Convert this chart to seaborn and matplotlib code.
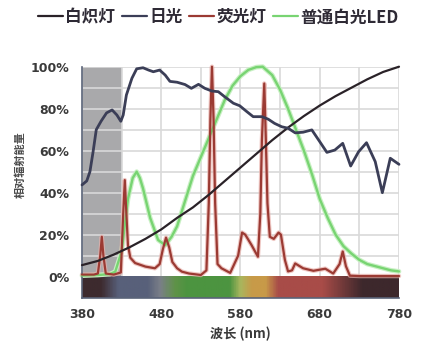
import numpy as np
import pandas as pd
import matplotlib
matplotlib.use("Agg")
import matplotlib.pyplot as plt
from matplotlib.colors import LinearSegmentedColormap
from matplotlib.lines import Line2D
import seaborn as sns

# ---------------- data ----------------
series_names = ["白炽灯", "日光", "荧光灯", "普通白光LED"]

incand_nm = [380, 400, 420, 440, 460, 480, 500, 520, 540, 560, 580, 600, 620, 640,
             660, 680, 700, 720, 740, 760, 780]
incand_pct = [5.5, 7.5, 10.5, 14, 18, 22.5, 28, 33, 39, 45.5, 52, 58.5, 65, 71,
              76.5, 81.5, 86, 90, 94, 97.5, 100]

day_nm = [380, 386, 390, 394, 398, 404, 411, 418, 424, 429, 432, 436, 443, 449, 457,
          464, 470, 478, 485, 491, 500, 510, 518, 527, 535, 544, 552, 560, 571, 579,
          588, 596, 607, 615, 623, 632, 640, 649, 659, 670, 680, 689, 699, 709, 719,
          729, 739, 750, 759, 769, 780]
day_pct = [43.7, 45.6, 50, 59.5, 70, 74, 78, 79.4, 77, 74, 77, 86.5, 94.5, 99, 99.5,
           98.4, 97.6, 98.4, 96, 93, 92.6, 91.5, 89.7, 91.6, 89.7, 88.4, 88.1, 85.7, 82.6, 81.4,
           78.6, 76.2, 76.2, 75, 73, 71.4, 70.7, 68.5, 68.8, 69.9, 64.3, 59.2, 60.3, 63.5, 52.7,
           59.5, 63.8, 54.8, 40, 56.4, 53.5]

fluor_nm = [380, 395, 400, 403, 405, 407, 410, 420, 429, 432, 434, 436, 438, 441, 447,
            460, 472, 478, 482, 486, 490, 494, 500, 506, 515, 530, 537, 540, 542, 544,
            546, 548, 551, 556, 567, 577, 582, 586, 594, 602, 605, 607, 610, 612, 614,
            617, 622, 628, 631, 636, 640, 645, 649, 659, 672, 687, 697, 705, 709, 713,
            718, 730, 780]
fluor_pct = [1, 1, 1.5, 10, 19, 10, 1.5, 1, 2, 30, 46, 30, 15, 9, 6.5,
             4.8, 4, 6, 13, 18.6, 14, 7, 4, 2.4, 1.5, 0.8, 3, 35, 75, 100,
             75, 35, 6, 4, 1.8, 10, 21, 20, 15, 9.5, 30, 65, 92, 65, 35,
             19, 18, 21, 20, 8, 2.5, 3, 6.3, 4, 2.8, 3.8, 1.5, 6, 12, 5,
             0.5, 0.3, 0.3]

led_nm = [380, 400, 415, 422, 430, 438, 444, 449, 453, 457, 466, 476, 485, 493, 500,
          510, 520, 530, 540, 550, 560, 570, 580, 590, 600, 608, 620, 630, 640, 650,
          660, 670, 680, 690, 700, 710, 720, 730, 740, 750, 760, 770, 780]
led_pct = [0.5, 0.8, 1.2, 2.4, 12, 37, 47, 50, 47, 42, 28, 17.5, 15, 19, 24,
           36, 48, 57, 66, 75, 84, 91, 95.5, 98.5, 99.8, 100, 96, 89, 80, 70,
           60, 49, 37, 28, 20, 14.5, 11, 8, 6, 5, 4, 3, 2.5]

x_ticks = [380, 480, 580, 680, 780]
y_ticks = [0, 20, 40, 60, 80, 100]
y_ticklabels = ["0%", "20%", "40%", "60%", "80%", "100%"]
shade_range = (380, 430)

# spectrum bar colours (wavelength, colour)
spec_nm = [380, 403, 425, 462, 478, 497, 512, 566, 580, 595, 612, 628, 684, 735, 780]
spec_col = ["#3d2a2e", "#3d2a2e", "#58607a", "#58607a", "#7a7f88", "#5f9248", "#4c9440",
            "#4c9440", "#a9b65e", "#c89a48", "#c89a48", "#a84c48", "#a84c48", "#3d282c", "#3d282c"]

# ---------------- style ----------------
sns.set_style("white")
plt.rcParams["font.family"] = ["DejaVu Sans", "Noto Sans CJK SC"]
cjk = ["Noto Sans CJK SC", "DejaVu Sans"]

fig = plt.figure(figsize=(4.39, 3.58), dpi=100)
ax = fig.add_axes([82 / 439, 1 - 298.3 / 358, 317 / 439, 231.6 / 358])

c_inc = "#2a2228"
c_day = "#3b3e57"
c_flu = "#9b3a33"
c_led = "#78d472"

# spectrum bar
cmap = LinearSegmentedColormap.from_list(
    "spec", [((n - 380) / 400, c) for n, c in zip(spec_nm, spec_col)])
grad = np.linspace(0, 1, 400).reshape(1, -1)
ax.imshow(grad, extent=[380, 780, -10.3, 0], aspect="auto", cmap=cmap, zorder=1)

# shaded UV region
ax.axvspan(shade_range[0], shade_range[1], ymin=10.3 / 110.3, ymax=1,
           color="#a9a9ab", zorder=0.3, lw=0)

# halos
ax.plot(led_nm, led_pct, color="#c9f0c4", lw=3.4, zorder=2, solid_capstyle="round")
ax.plot(fluor_nm, fluor_pct, color="#e8b0aa", lw=3.2, zorder=2.5, alpha=0.7)

sns.lineplot(x=led_nm, y=led_pct, ax=ax, color=c_led, lw=1.7, zorder=3, sort=False)
sns.lineplot(x=fluor_nm, y=fluor_pct, ax=ax, color=c_flu, lw=1.6, zorder=4, sort=False)
sns.lineplot(x=incand_nm, y=incand_pct, ax=ax, color=c_inc, lw=1.6, zorder=5, sort=False)
sns.lineplot(x=day_nm, y=day_pct, ax=ax, color=c_day, lw=2.0, zorder=6, sort=False)
for ln in ax.get_lines():
    ln.set_clip_on(False)

ax.set_xlim(380, 780)
ax.set_ylim(-10.3, 100)

ax.set_xticks(x_ticks)
ax.set_xticks([430, 530, 630, 730], minor=True)
ax.set_yticks(y_ticks)
ax.set_yticks([10, 30, 50, 70, 90], minor=True)
ax.set_yticklabels(y_ticklabels)
ax.set_xticklabels([str(v) for v in x_ticks])

ax.set_axisbelow(True)
ax.grid(True, which="both", color="#d9d9d9", lw=1.2)

for lab in ax.get_xticklabels() + ax.get_yticklabels():
    lab.set_fontweight("bold")
    lab.set_color("#3a3a3a")
    lab.set_fontsize(9)

ax.tick_params(axis="x", which="major", direction="in", length=3, width=1,
               color="#444455", pad=7)
ax.tick_params(axis="y", which="major", direction="in", length=3, width=1,
               color="#556070", pad=9)
ax.tick_params(which="minor", length=0)

for s in ["top", "right"]:
    ax.spines[s].set_visible(False)
ax.spines["left"].set_color("#5a6378")
ax.spines["left"].set_linewidth(1.2)
ax.spines["bottom"].set_color("#5a6378")
ax.spines["bottom"].set_linewidth(1.2)

ax.set_xlabel("波长 (nm)", family=cjk, fontweight="bold", fontsize=9.5,
              color="#3a3a3a", labelpad=4)
ax.set_ylabel("相对辐射能量", family=cjk, fontsize=8, fontweight="bold", color="#4a4a4a")
ax.yaxis.set_label_coords(-0.175, 63.5 / 110.3)

# legend
handles = [Line2D([], [], color=c_inc, lw=1.6),
           Line2D([], [], color=c_day, lw=1.6),
           Line2D([], [], color=c_flu, lw=1.6),
           Line2D([], [], color=c_led, lw=1.6)]
leg = fig.legend(handles, series_names, loc="center", bbox_to_anchor=(0.497, 0.952),
                 ncol=4, frameon=False, handlelength=1.5, handletextpad=0.15,
                 columnspacing=0.4, prop={"family": cjk, "weight": "bold", "size": 12})
for t in leg.get_texts():
    t.set_color("#2e2a35")

fig.savefig("out.png", dpi=100)
